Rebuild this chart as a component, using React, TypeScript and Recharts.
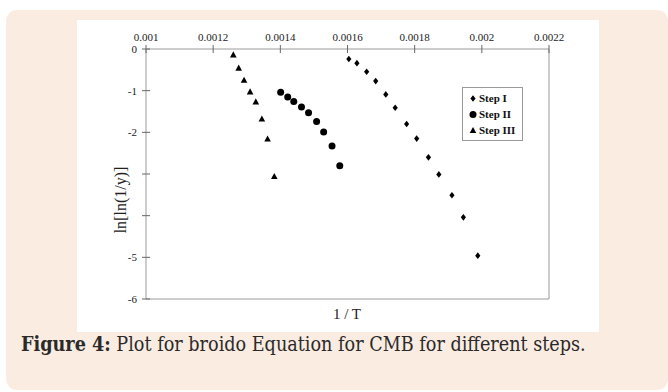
import React from 'react';
import { ScatterChart, Scatter, XAxis, YAxis, ZAxis, ReferenceLine, Legend } from 'recharts';

const stepIX = [0.001604, 0.001628, 0.001657, 0.001684, 0.001714, 0.001742, 0.001776, 0.001806, 0.001841, 0.001872, 0.001911, 0.001945, 0.001988];
const stepIY = [-0.24, -0.34, -0.545, -0.77, -1.09, -1.41, -1.8, -2.15, -2.6, -3.01, -3.51, -4.04, -4.96];
const stepIIX = [0.001401, 0.001422, 0.00144, 0.001463, 0.001484, 0.001508, 0.001529, 0.001554, 0.001577];
const stepIIY = [-1.04, -1.15, -1.26, -1.39, -1.53, -1.74, -1.99, -2.33, -2.8];
const stepIIIX = [0.00126, 0.001276, 0.001292, 0.00131, 0.001327, 0.001345, 0.001362, 0.001382];
const stepIIIY = [-0.14, -0.46, -0.75, -1.03, -1.27, -1.68, -2.16, -3.06];
const xTicks = [0.001, 0.0012, 0.0014, 0.0016, 0.0018, 0.002, 0.0022];
const yTicks = [0, -1, -2, -3, -4, -5, -6];
const seriesNames = ['Step I', 'Step II', 'Step III'];

const toPoints = (xs: number[], ys: number[]) => xs.map((x, i) => ({ x, y: ys[i] }));

const SERIF = "'Liberation Serif', 'Times New Roman', serif";
const AXIS = '#9a9a9a';

const Diamond = (p: any) => (
  <polygon points={`${p.cx},${p.cy - 3.3} ${p.cx + 2.6},${p.cy} ${p.cx},${p.cy + 3.3} ${p.cx - 2.6},${p.cy}`} fill="#000" />
);
const Dot = (p: any) => <circle cx={p.cx} cy={p.cy} r={3.5} fill="#000" />;
const Tri = (p: any) => (
  <polygon points={`${p.cx},${p.cy - 3.6} ${p.cx + 3.3},${p.cy + 2.6} ${p.cx - 3.3},${p.cy + 2.6}`} fill="#000" />
);
const shapes = [Diamond, Dot, Tri];

const fmt = (v: number) => String(Number(v.toFixed(4)));
const tickText = { fontFamily: SERIF, fontSize: 11 };

const XTick = (p: any) => (
  <g>
    <line x1={p.x} x2={p.x} y1={p.y - 4} y2={p.y + 4} stroke="#666" />
    <text x={p.x} y={p.y - 8} textAnchor="middle" style={tickText} fill="#222">{fmt(p.payload.value)}</text>
  </g>
);
const YTick = (p: any) => (
  <g>
    <line x1={p.x - 4} x2={p.x + 4} y1={p.y} y2={p.y} stroke="#666" />
    <text x={p.x - 9} y={p.y + 4} textAnchor="end" style={tickText} fill="#222">{String(p.payload.value)}</text>
  </g>
);

const LegendBox = (props: any) => {
  const items = props.payload || [];
  return (
    <div style={{ border: '1px solid #999', background: '#fff', width: 61, padding: '2px 0 2px 6px', boxSizing: 'border-box' }}>
      {items.map((it: any, i: number) => {
        const S = shapes[i];
        return (
          <div key={i} style={{ display: 'flex', alignItems: 'center', height: 16, fontFamily: SERIF, fontWeight: 'bold', fontSize: 11, color: '#111' }}>
            <svg width={8} height={10} style={{ marginRight: 2 }}>
              <S cx={4} cy={5.5} />
            </svg>
            {it.value}
          </div>
        );
      })}
    </div>
  );
};

export default function App() {
  const data = [toPoints(stepIX, stepIY), toPoints(stepIIX, stepIIY), toPoints(stepIIIX, stepIIIY)];
  return (
    <div style={{ position: 'absolute', left: 0, top: 0, width: 668, height: 392, background: '#fff', overflow: 'hidden' }}>
      <div style={{ position: 'absolute', left: 6, top: 10, width: 662, height: 380, background: '#fbece2', borderRadius: 11 }} />
      <div style={{ position: 'absolute', left: 77, top: 20, width: 522, height: 312, background: '#fff' }} />
      <div style={{ position: 'absolute', left: 21, top: 333, fontFamily: "'DejaVu Serif', serif", fontStretch: 'condensed', fontSize: 19.6, color: '#2a2a2a', whiteSpace: 'nowrap' }}>
        <b>Figure 4:</b> Plot for broido Equation for CMB for different steps.
      </div>
      <div style={{ position: 'absolute', left: 0, top: 0 }}>
        <ScatterChart width={668} height={392} margin={{ top: 48, left: 145, right: 119, bottom: 93 }}>
          <XAxis
            type="number"
            dataKey="x"
            orientation="top"
            domain={[0.001, 0.0022]}
            ticks={xTicks}
            height={1}
            tickSize={0}
            tickMargin={0}
            tick={XTick}
            axisLine={{ stroke: AXIS }}
            allowDataOverflow
          />
          <YAxis
            type="number"
            dataKey="y"
            domain={[-6, 0]}
            ticks={yTicks}
            width={1}
            tickSize={0}
            tickMargin={0}
            tick={YTick}
            axisLine={{ stroke: AXIS }}
            allowDataOverflow
          />
          <ZAxis range={[30, 30]} />
          <ReferenceLine x={0.0022} stroke={AXIS} />
          <ReferenceLine y={-6} stroke={AXIS} />
          <Legend
            layout="horizontal"
            verticalAlign="middle"
            align="center"
            content={LegendBox}
            wrapperStyle={{ position: 'absolute', left: 462, top: 87, width: 62 }}
          />
          {data.map((d, i) => (
            <Scatter key={seriesNames[i]} name={seriesNames[i]} data={d} fill="#000" shape={shapes[i]} isAnimationActive={false} />
          ))}
        </ScatterChart>
      </div>
      <div style={{ position: 'absolute', left: 111, top: 158, width: 28, height: 84, background: '#fff', display: 'flex', alignItems: 'center', justifyContent: 'flex-start' }}>
        <div style={{ width: 0, height: 0, position: 'relative', left: 10 }}>
          <div style={{ position: 'absolute', left: 0, top: 0, transform: 'translate(-50%, -50%) rotate(-90deg)', whiteSpace: 'nowrap', fontFamily: SERIF, fontSize: 16, color: '#222' }}>ln[ln(1/y)]</div>
        </div>
      </div>
      <div style={{ position: 'absolute', left: 0, top: 306, width: 694, textAlign: 'center', fontFamily: SERIF, fontSize: 15, color: '#222' }}>1 / T</div>
    </div>
  );
}
